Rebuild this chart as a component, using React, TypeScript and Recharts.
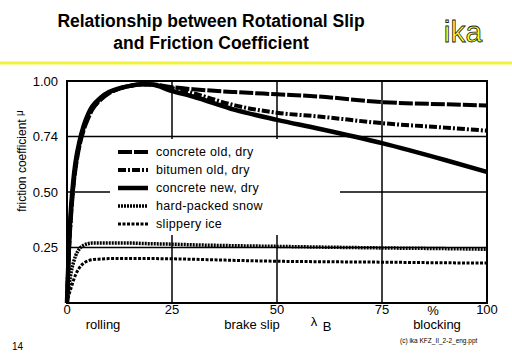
import React from 'react';
import { LineChart, Line, XAxis, YAxis, CartesianGrid, ReferenceArea, Legend } from 'recharts';

const slip = [0, 0.5, 1, 1.5, 2, 3, 4, 5, 6, 8, 10, 12, 15, 18, 20, 25, 30, 40, 50, 60, 75, 90, 100];
const concreteOld = [0, 0.25, 0.4, 0.52, 0.6, 0.71, 0.78, 0.83, 0.87, 0.915, 0.945, 0.962, 0.978, 0.985, 0.985, 0.972, 0.963, 0.95, 0.94, 0.93, 0.905, 0.895, 0.89];
const bitumenOld = [0, 0.26, 0.42, 0.53, 0.61, 0.72, 0.79, 0.84, 0.875, 0.92, 0.948, 0.963, 0.978, 0.985, 0.984, 0.968, 0.945, 0.89, 0.857, 0.84, 0.81, 0.79, 0.776];
const concreteNew = [0, 0.28, 0.44, 0.55, 0.63, 0.73, 0.8, 0.85, 0.885, 0.925, 0.95, 0.965, 0.978, 0.985, 0.984, 0.955, 0.93, 0.87, 0.825, 0.785, 0.72, 0.644, 0.59];
const snow = [0, 0.08, 0.14, 0.18, 0.21, 0.245, 0.26, 0.267, 0.27, 0.27, 0.27, 0.27, 0.27, 0.268, 0.267, 0.265, 0.262, 0.258, 0.255, 0.252, 0.248, 0.245, 0.242];
const ice = [0, 0.04, 0.07, 0.1, 0.125, 0.16, 0.18, 0.19, 0.195, 0.198, 0.2, 0.2, 0.2, 0.2, 0.2, 0.199, 0.197, 0.192, 0.188, 0.186, 0.184, 0.181, 0.18];

const xTicks = [0, 25, 50, 75, 100];
const xTickLabels = ['0', '25', '50', '75', '100'];
const yTicks = [0.25, 0.5, 0.75, 1];
const yTickLabels = ['0.25', '0.50', '0.74', '1.00'];

const seriesNames = ['concrete old, dry', 'bitumen old, dry', 'concrete new, dry', 'hard-packed snow', 'slippery ice'];
const seriesKeys = ['concreteOld', 'bitumenOld', 'concreteNew', 'snow', 'ice'];
const seriesDash = ['14 2', '8 2 2 2', '', '2 1', '3 1.5'];
const seriesWidth = [4, 4, 4.5, 3.5, 3];

const data = slip.map((s, i) => ({
  slip: s,
  concreteOld: concreteOld[i],
  bitumenOld: bitumenOld[i],
  concreteNew: concreteNew[i],
  snow: snow[i],
  ice: ice[i],
}));

const FONT = 'Arial, "Liberation Sans", sans-serif';

const LegendBox = () => (
  <div style={{ background: '#fff', width: 230, height: 96, paddingTop: 4, boxSizing: 'border-box' }}>
    {seriesNames.map((n, i) => (
      <div key={n} style={{ display: 'flex', alignItems: 'center', height: 18, fontFamily: FONT, fontSize: 12.5, color: '#000' }}>
        <svg width={38} height={10} style={{ marginLeft: 8 }}>
          <line x1={0} y1={5} x2={30} y2={5} stroke="#000" strokeWidth={seriesWidth[i]} strokeDasharray={seriesDash[i] || undefined} />
        </svg>
        <span style={{ letterSpacing: 0.3 }}>{n}</span>
      </div>
    ))}
  </div>
);

export default function App() {
  return (
    <div style={{ position: 'absolute', left: 0, top: 0, width: 512, height: 354, background: '#fff', overflow: 'hidden' }}>
      <LineChart width={512} height={354} data={data} margin={{ top: 81, right: 25, bottom: 0, left: 0 }}>
        <CartesianGrid stroke="#000" strokeWidth={1.5} />
        <XAxis
          dataKey="slip"
          type="number"
          domain={[0, 100]}
          ticks={xTicks}
          tickFormatter={(v: number) => xTickLabels[xTicks.indexOf(v)]}
          axisLine={false}
          tickLine={false}
          tickSize={0}
          tickMargin={2}
          height={51}
          tick={{ fill: '#000', fontSize: 13, fontFamily: FONT }}
        />
        <YAxis
          type="number"
          domain={[0, 1]}
          ticks={yTicks}
          tickFormatter={(v: number) => yTickLabels[yTicks.indexOf(v)]}
          axisLine={false}
          tickLine={false}
          tickSize={0}
          tickMargin={9}
          width={67}
          tick={{ fill: '#000', fontSize: 13, fontFamily: FONT }}
        />
        <ReferenceArea x1={0} x2={100} y1={0} y2={1} fill="none" stroke="#000" strokeWidth={2} ifOverflow="visible" />
        {seriesKeys.map((k, i) => (
          <Line
            key={k}
            dataKey={k}
            name={seriesNames[i]}
            type="monotone"
            stroke="#000"
            strokeWidth={seriesWidth[i]}
            strokeDasharray={seriesDash[i] || undefined}
            dot={false}
            isAnimationActive={false}
          />
        ))}
        <Legend
          layout="vertical"
          align="center"
          verticalAlign="middle"
          content={() => <LegendBox />}
          wrapperStyle={{ position: 'absolute', left: 110, top: 139, width: 230, height: 96 }}
        />
      </LineChart>
      <svg width={512} height={354} style={{ position: 'absolute', left: 0, top: 0, pointerEvents: 'none' }}>
        <text x={211} y={27} textAnchor="middle" fontFamily={FONT} fontWeight="bold" fontSize={17.5}>Relationship between Rotational Slip</text>
        <text x={211} y={49} textAnchor="middle" fontFamily={FONT} fontWeight="bold" fontSize={17.5}>and Friction Coefficient</text>
        <text x={463} y={42} textAnchor="middle" fontFamily={FONT} fontSize={30} fill="#ffff22" stroke="#222" strokeWidth={0.8}>ika</text>
        <rect x={0} y={61.5} width={512} height={3} fill="#f2f23a" />
        <text transform="translate(26,161) rotate(-90)" textAnchor="middle" fontFamily={FONT} fontSize={12}>
          friction coefficient <tspan fontSize={10} dy={-3}>μ</tspan>
        </text>
        <text x={433} y={315} textAnchor="middle" fontFamily={FONT} fontSize={13}>%</text>
        <text x={103} y={329} textAnchor="middle" fontFamily={FONT} fontSize={13}>rolling</text>
        <text x={252} y={329} textAnchor="middle" fontFamily={FONT} fontSize={13}>brake slip</text>
        <text x={314} y={326} textAnchor="middle" fontFamily={FONT} fontSize={13}>λ</text>
        <text x={327} y={331} textAnchor="middle" fontFamily={FONT} fontSize={13}>B</text>
        <text x={437} y={329} textAnchor="middle" fontFamily={FONT} fontSize={13}>blocking</text>
        <text x={12} y={350} fontFamily={FONT} fontSize={10}>14</text>
        <text x={400} y={343} fontFamily={FONT} fontSize={6.5}>(c) ika  KFZ_II_2-2_eng.ppt</text>
      </svg>
    </div>
  );
}
